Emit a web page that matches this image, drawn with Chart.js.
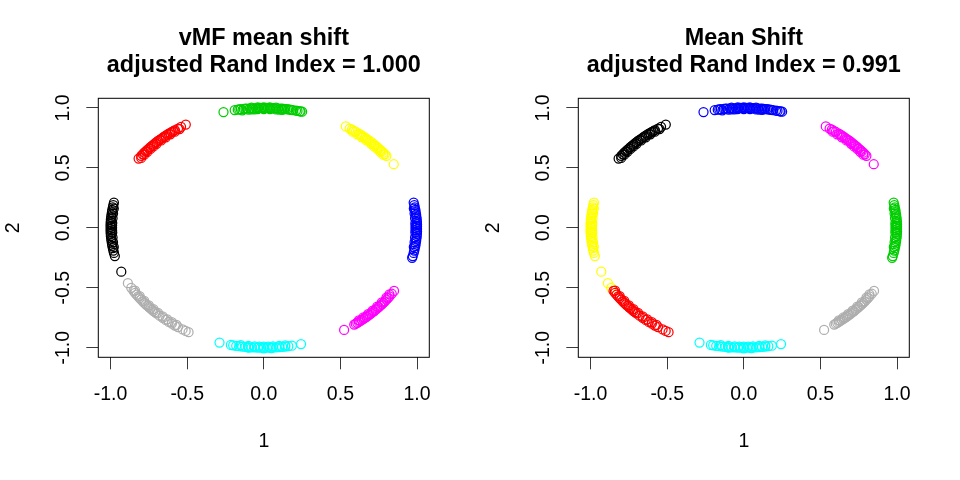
<!DOCTYPE html>
<html>
<head>
<meta charset="utf-8">
<script src="https://cdn.jsdelivr.net/npm/chart.js@4/dist/chart.umd.min.js"></script>
<style>
  html, body { margin: 0; padding: 0; background: #fff; }
  #wrap { position: relative; width: 960px; height: 480px; }
  .pane { position: absolute; top: 0; width: 480px; height: 480px; }
  #p1 { left: 0; } #p2 { left: 480px; }
</style>
</head>
<body>
<div id="wrap">
  <div class="pane" id="p1"><canvas id="c1" width="480" height="480"></canvas></div>
  <div class="pane" id="p2"><canvas id="c2" width="480" height="480"></canvas></div>
</div>
<script>
// ---------- data ----------
const TICKS = [-1.0, -0.5, 0.0, 0.5, 1.0];
const TICK_LABELS = ["-1.0", "-0.5", "0.0", "0.5", "1.0"];
const AXIS_MIN = -1.08, AXIS_MAX = 1.08;
const X_LABEL = "1", Y_LABEL = "2";
const TITLE_LEFT = ["vMF mean shift", "adjusted Rand Index = 1.000"];
const TITLE_RIGHT = ["Mean Shift", "adjusted Rand Index = 0.991"];

// arcs of points on (near) the unit circle
const arcTop = [[-0.263,0.965],[-0.19,0.982],[-0.17,0.985],[-0.16,0.987],[-0.15,0.989],[-0.13,0.991],[-0.12,0.993],[-0.11,0.994],[-0.09,0.996],[-0.07,0.997],[-0.05,0.999],[-0.03,1.0],[-0.02,1.0],[-0.01,1.0],[0.01,1.0],[0.02,1.0],[0.03,1.0],[0.05,0.999],[0.06,0.998],[0.07,0.997],[0.09,0.996],[0.11,0.994],[0.12,0.993],[0.13,0.991],[0.14,0.990],[0.15,0.989],[0.16,0.987],[0.17,0.985],[0.18,0.984],[0.19,0.982],[0.21,0.978],[0.22,0.975],[0.235,0.972],[0.24,0.970],[0.25,0.968],
  [-0.14,0.980],[-0.10,0.985],[-0.08,0.987],[-0.06,0.988],[-0.04,0.989],[0.0,0.990],[0.04,0.989],[0.08,0.987],[0.10,0.985],[0.12,0.983],[-0.08,1.002],[-0.04,1.004],[0.0,1.005],[0.04,1.004],[0.08,1.002]];
const arcUpperLeft = [[-0.817,0.577],[-0.80,0.600],[-0.79,0.613],[-0.78,0.626],[-0.77,0.638],[-0.76,0.650],[-0.75,0.661],[-0.74,0.673],[-0.73,0.683],[-0.72,0.694],[-0.71,0.704],[-0.70,0.714],[-0.69,0.724],[-0.68,0.733],[-0.67,0.742],[-0.66,0.751],[-0.65,0.760],[-0.64,0.768],[-0.63,0.777],[-0.62,0.785],[-0.61,0.792],[-0.60,0.800],[-0.59,0.807],[-0.58,0.815],[-0.56,0.828],[-0.54,0.842],[-0.509,0.861],
  [-0.80,0.583],[-0.78,0.610],[-0.76,0.634],[-0.74,0.658],[-0.72,0.679],[-0.70,0.700],[-0.67,0.729],[-0.64,0.755],[-0.61,0.780],[-0.58,0.802],[-0.55,0.823]];
const arcUpperRight = [[0.535,0.845],[0.56,0.828],[0.575,0.818],[0.59,0.807],[0.60,0.800],[0.62,0.785],[0.63,0.777],[0.64,0.768],[0.65,0.760],[0.66,0.751],[0.67,0.742],[0.68,0.733],[0.69,0.724],[0.70,0.714],[0.71,0.704],[0.72,0.694],[0.73,0.683],[0.74,0.673],[0.75,0.661],[0.76,0.650],[0.77,0.638],[0.78,0.626],[0.79,0.613],[0.80,0.600],[0.848,0.530],
  [0.58,0.802],[0.61,0.780],[0.64,0.755],[0.67,0.729],[0.70,0.700],[0.72,0.679],[0.74,0.658],[0.76,0.634],[0.78,0.610]];
const arcLeft = [[-0.978,0.210],[-0.982,0.19],[-0.985,0.17],[-0.989,0.15],[-0.991,0.13],[-0.994,0.11],[-0.996,0.09],[-0.998,0.07],[-0.999,0.05],[-1.0,0.03],[-1.0,0.01],[-1.0,-0.01],[-1.0,-0.03],[-0.999,-0.05],[-0.998,-0.07],[-0.996,-0.09],[-0.994,-0.11],[-0.991,-0.13],[-0.989,-0.15],[-0.985,-0.17],[-0.982,-0.19],[-0.978,-0.21],[-0.972,-0.236],
  [-0.99,0.0],[-0.99,0.02],[-0.989,0.04],[-0.987,0.08],[-0.984,0.12],[-0.979,0.16],[-0.99,-0.02],[-0.989,-0.04],[-0.987,-0.08],[-0.984,-0.12],[-0.979,-0.16]];
const arcLeftStray = [[-0.93,-0.366]];
const arcRight = [[0.978,0.210],[0.982,0.19],[0.985,0.17],[0.989,0.15],[0.991,0.13],[0.994,0.11],[0.996,0.09],[0.998,0.07],[0.999,0.05],[1.0,0.03],[1.0,0.01],[1.0,-0.01],[1.0,-0.03],[0.999,-0.05],[0.998,-0.07],[0.996,-0.09],[0.994,-0.11],[0.991,-0.13],[0.989,-0.15],[0.985,-0.17],[0.982,-0.19],[0.978,-0.21],[0.972,-0.236],[0.968,-0.25],
  [0.99,0.0],[0.99,0.02],[0.989,0.04],[0.987,0.08],[0.984,0.12],[0.979,0.16],[0.99,-0.02],[0.989,-0.04],[0.987,-0.08],[0.984,-0.12],[0.979,-0.16]];
const arcLowerLeftHead = [[-0.887,-0.462],[-0.865,-0.500]];
const arcLowerLeft = [[-0.85,-0.527],[-0.84,-0.543],[-0.83,-0.558],[-0.82,-0.572],[-0.81,-0.586],[-0.80,-0.600],[-0.79,-0.613],[-0.78,-0.626],[-0.77,-0.638],[-0.76,-0.650],[-0.75,-0.661],[-0.74,-0.673],[-0.73,-0.683],[-0.72,-0.694],[-0.71,-0.704],[-0.70,-0.714],[-0.68,-0.733],[-0.66,-0.751],[-0.64,-0.768],[-0.62,-0.785],[-0.60,-0.800],[-0.58,-0.815],[-0.56,-0.828],[-0.53,-0.848],[-0.51,-0.860],[-0.491,-0.871],
  [-0.84,-0.524],[-0.81,-0.569],[-0.78,-0.610],[-0.75,-0.646],[-0.72,-0.679],[-0.69,-0.710],[-0.66,-0.738],[-0.63,-0.764],[-0.60,-0.787],[-0.57,-0.809]];
const arcLowerRight = [[0.524,-0.852],[0.59,-0.807],[0.60,-0.800],[0.61,-0.792],[0.62,-0.785],[0.63,-0.777],[0.64,-0.768],[0.65,-0.760],[0.66,-0.751],[0.67,-0.742],[0.68,-0.733],[0.69,-0.724],[0.70,-0.714],[0.71,-0.704],[0.72,-0.694],[0.73,-0.683],[0.74,-0.673],[0.75,-0.661],[0.76,-0.650],[0.77,-0.638],[0.78,-0.626],[0.79,-0.613],[0.80,-0.600],[0.81,-0.586],[0.82,-0.572],[0.835,-0.550],[0.85,-0.527],
  [0.62,-0.772],[0.65,-0.747],[0.68,-0.720],[0.71,-0.690],[0.74,-0.658],[0.77,-0.622],[0.80,-0.583],[0.82,-0.555]];
const arcBottom = [[-0.289,-0.957],[-0.215,-0.977],[-0.20,-0.980],[-0.18,-0.984],[-0.16,-0.987],[-0.14,-0.990],[-0.12,-0.993],[-0.10,-0.995],[-0.08,-0.997],[-0.06,-0.998],[-0.04,-0.999],[-0.02,-1.0],[0.0,-1.0],[0.02,-1.0],[0.04,-0.999],[0.06,-0.998],[0.08,-0.997],[0.10,-0.995],[0.12,-0.993],[0.14,-0.990],[0.16,-0.987],[0.183,-0.983],[0.243,-0.970],
  [-0.15,-0.979],[-0.10,-0.985],[-0.06,-0.988],[-0.03,-0.990],[0.0,-0.990],[0.03,-0.990],[0.06,-0.988],[0.10,-0.985],[0.14,-0.980],[-0.10,-1.0],[0.0,-1.005],[0.05,-1.004]];

// R palette colours
const COL = { black:"#000000", red:"#FF0000", green3:"#00CD00", blue:"#0000FF", cyan:"#00FFFF", magenta:"#FF00FF", yellow:"#FFFF00", gray:"#AEAEAE" };

// cluster assignments per panel
const leftGroups = [
  [COL.black, arcLeft.concat(arcLeftStray)],
  [COL.red, arcUpperLeft],
  [COL.green3, arcTop],
  [COL.blue, arcRight],
  [COL.cyan, arcBottom],
  [COL.magenta, arcLowerRight],
  [COL.yellow, arcUpperRight],
  [COL.gray, arcLowerLeftHead.concat(arcLowerLeft)]
];
const rightGroups = [
  [COL.black, arcUpperLeft],
  [COL.red, arcLowerLeft],
  [COL.green3, arcRight],
  [COL.blue, arcTop],
  [COL.cyan, arcBottom],
  [COL.magenta, arcUpperRight],
  [COL.yellow, arcLeft.concat(arcLeftStray, arcLowerLeftHead)],
  [COL.gray, arcLowerRight]
];

// ---------- rendering ----------
const FONT = '"Liberation Sans", Arial, Helvetica, sans-serif';
const TICK_PX = 19.5, TITLE_PX = 23.4;

const rFrame = {
  id: 'rFrame',
  afterDraw(chart, args, opts) {
    const { ctx, chartArea: a, scales } = chart;
    const y = scales.y;
    ctx.save();
    ctx.strokeStyle = '#000';
    ctx.lineWidth = 1;
    ctx.strokeRect(a.left, a.top, a.right - a.left, a.bottom - a.top);
    // rotated y tick labels
    ctx.fillStyle = '#000';
    ctx.font = TICK_PX + 'px ' + FONT;
    ctx.textAlign = 'center';
    ctx.textBaseline = 'middle';
    y.ticks.forEach((t) => {
      const i = TICKS.indexOf(t.value);
      const py = y.getPixelForValue(t.value);
      ctx.save();
      ctx.translate(a.left - 34.5, py);
      ctx.rotate(-Math.PI / 2);
      ctx.fillText(TICK_LABELS[i], 0, 0);
      ctx.restore();
    });
    // two-line bold title
    ctx.font = 'bold ' + TITLE_PX + 'px ' + FONT;
    ctx.textBaseline = 'alphabetic';
    const cx = (a.left + a.right) / 2;
    ctx.fillText(opts.lines[0], cx, 45);
    ctx.fillText(opts.lines[1], cx, 71.7);
    ctx.restore();
  }
};

function makeChart(id, groups, titleLines) {
  const datasets = groups.map(([color, pts]) => ({
    data: pts.map(([x, y]) => ({ x, y })),
    borderColor: color,
    backgroundColor: 'rgba(0,0,0,0)',
    pointStyle: 'circle',
    pointRadius: 4.5,
    pointBorderWidth: 1.25,
    showLine: false
  }));
  const tickSetter = (scale) => { scale.ticks = TICKS.map(v => ({ value: v })); };
  return new Chart(document.getElementById(id), {
    type: 'scatter',
    data: { datasets },
    plugins: [rFrame],
    options: {
      responsive: false,
      animation: false,
      events: [],
      layout: { padding: { top: 98.3, right: 50.7, left: 0, bottom: 0 } },
      plugins: { legend: { display: false }, tooltip: { enabled: false }, title: { display: false }, rFrame: { lines: titleLines } },
      scales: {
        x: {
          type: 'linear', min: AXIS_MIN, max: AXIS_MAX,
          afterBuildTicks: tickSetter,
          afterFit: (s) => { s.height = 122.7; },
          border: { display: false },
          grid: { drawOnChartArea: false, drawTicks: true, tickLength: 12, color: '#3a3a3a', lineWidth: 1 },
          ticks: { autoSkip: false, maxRotation: 0, minRotation: 0, padding: 14, color: '#000',
                   font: { family: FONT, size: TICK_PX },
                   callback: (v) => TICK_LABELS[TICKS.indexOf(v)] },
          title: { display: true, text: X_LABEL, color: '#000', padding: 26.3, font: { family: FONT, size: TICK_PX } }
        },
        y: {
          type: 'linear', min: AXIS_MIN, max: AXIS_MAX,
          afterBuildTicks: tickSetter,
          afterFit: (s) => { s.width = 98.3; },
          border: { display: false },
          grid: { drawOnChartArea: false, drawTicks: true, tickLength: 12, color: '#3a3a3a', lineWidth: 1 },
          ticks: { display: false },
          title: { display: true, text: Y_LABEL, color: '#000', padding: 2.3, font: { family: FONT, size: TICK_PX } }
        }
      }
    }
  });
}

makeChart('c1', leftGroups, TITLE_LEFT);
makeChart('c2', rightGroups, TITLE_RIGHT);
</script>
</body>
</html>
